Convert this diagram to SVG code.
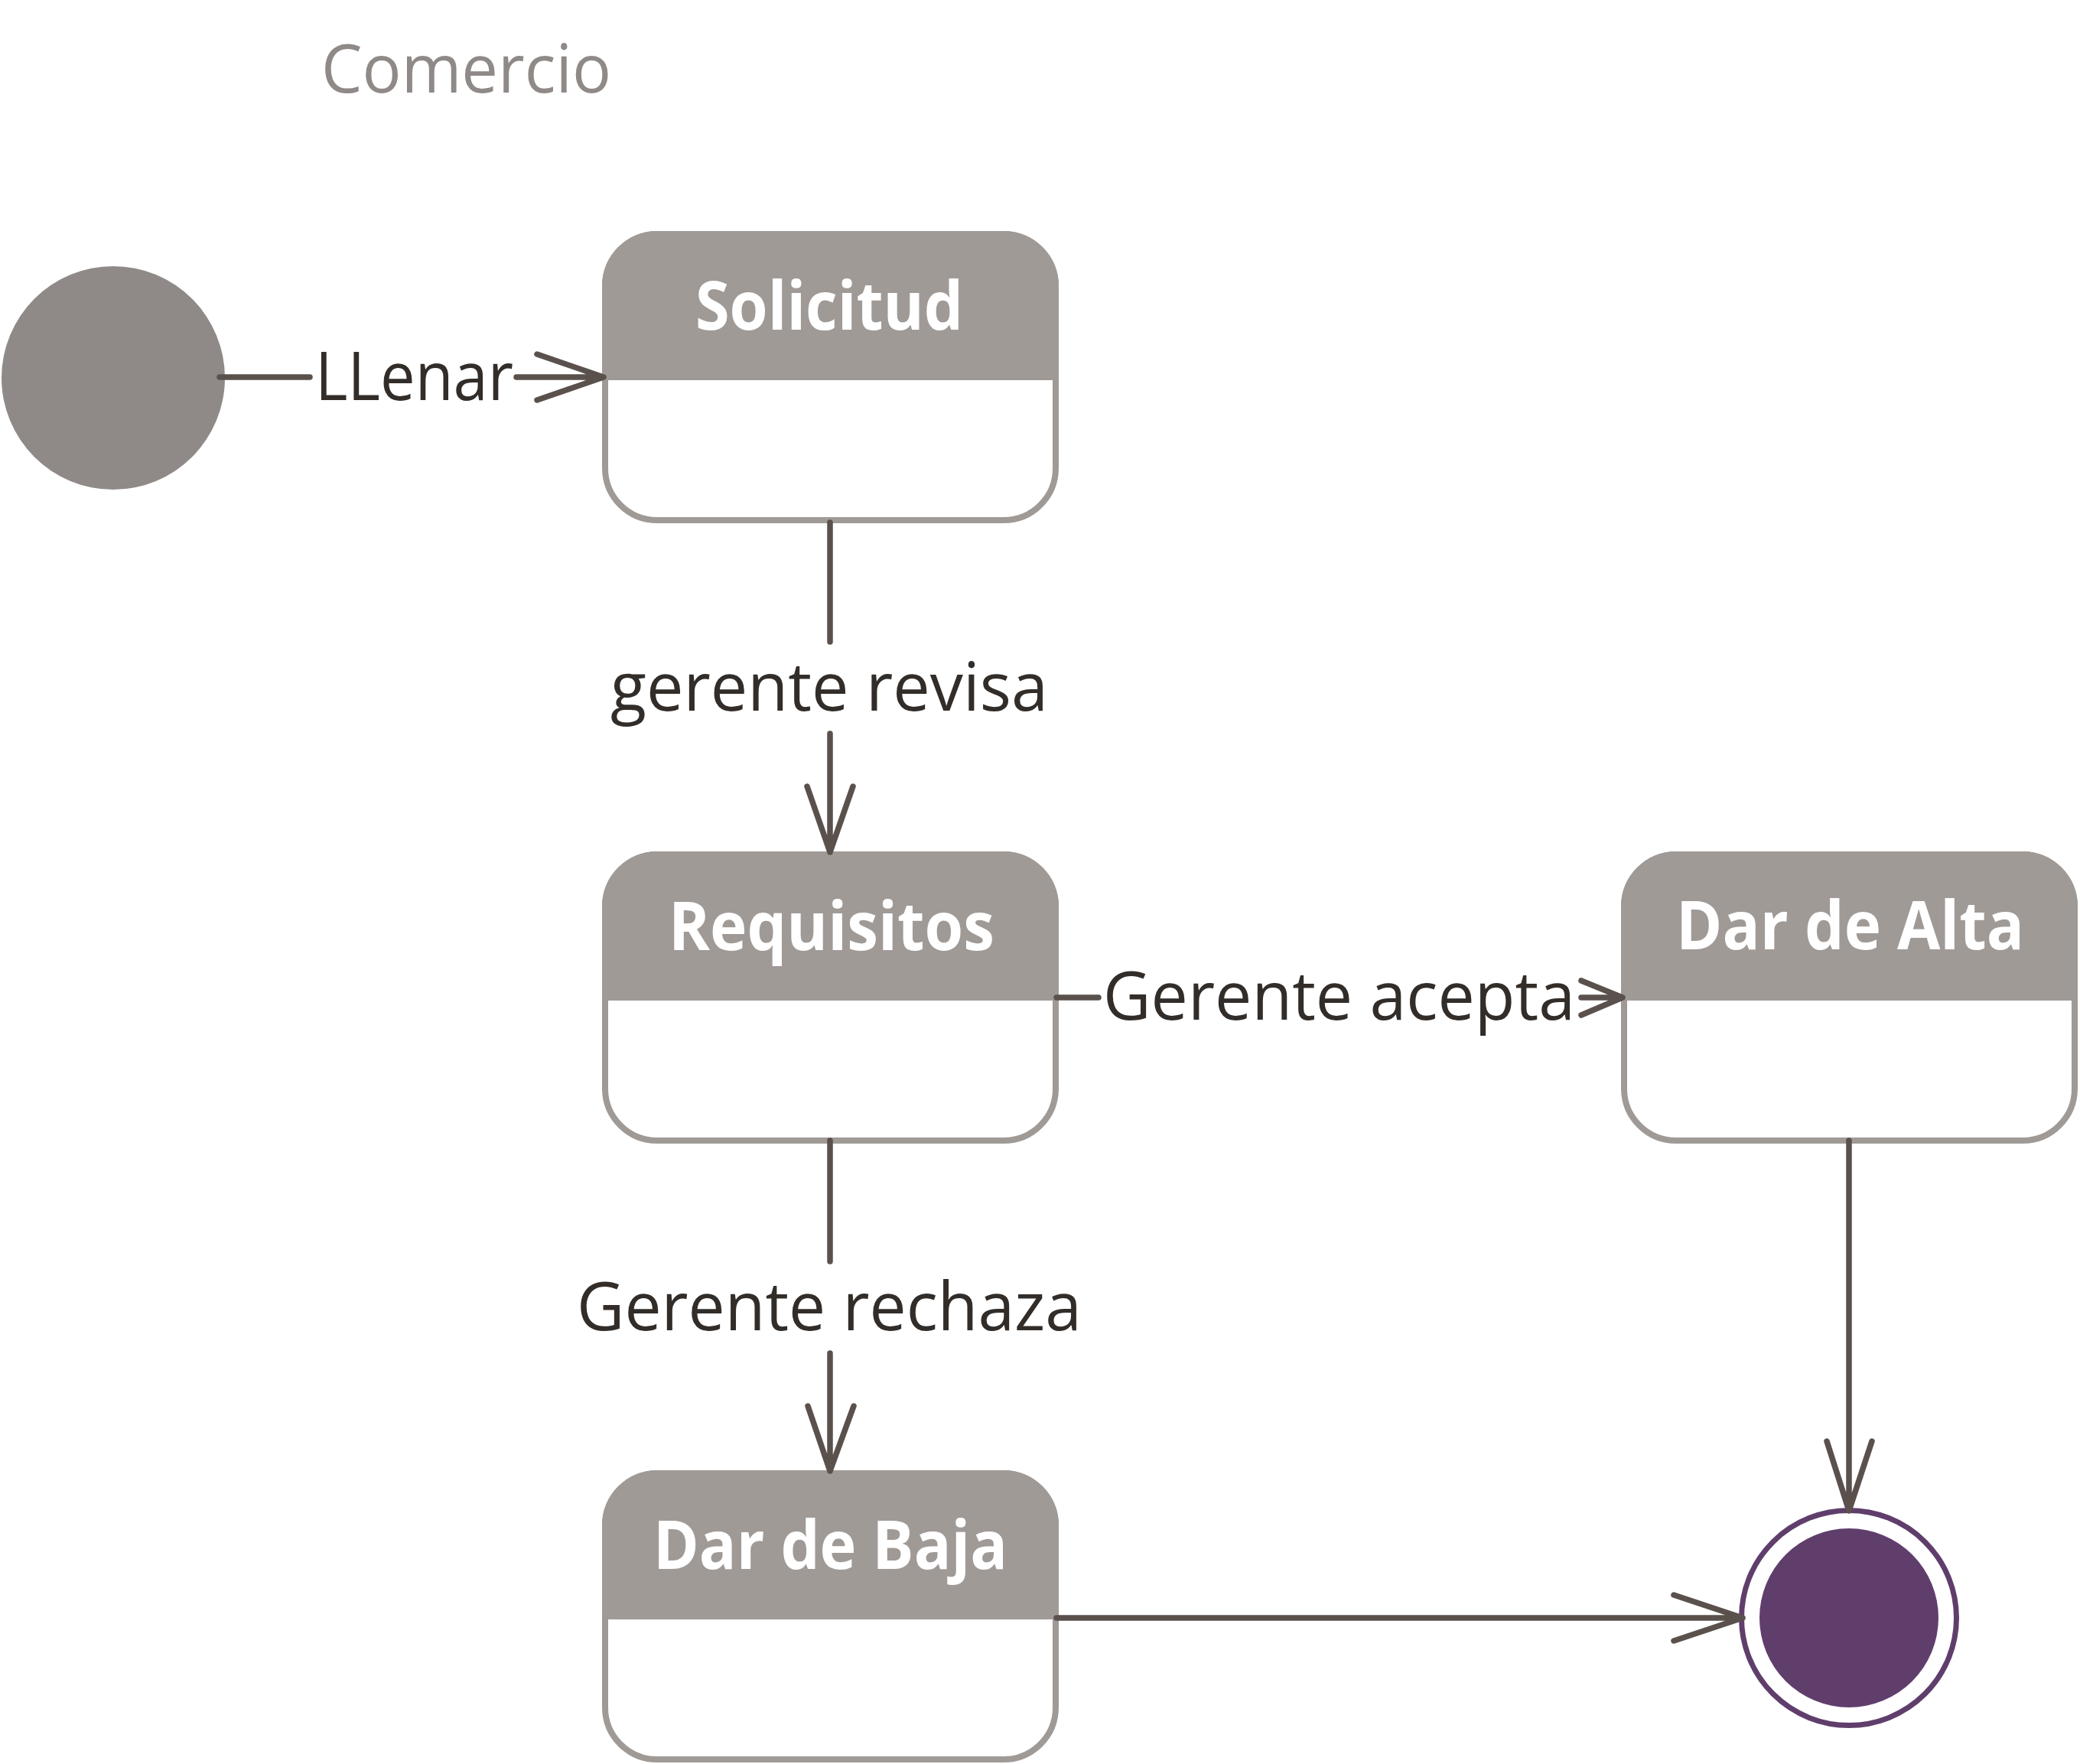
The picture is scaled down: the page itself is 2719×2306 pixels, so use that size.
<svg xmlns="http://www.w3.org/2000/svg" width="2719" height="2306" viewBox="0 0 2719 2306">
<style>
.body{fill:#ffffff;stroke:#a09a97;stroke-width:8}
.head{fill:#a09a97}
.name{font-family:"Open Sans","Noto Sans",sans-serif;font-weight:bold;font-size:88px;fill:#ffffff}
.lbl{font-family:"Open Sans","Noto Sans",sans-serif;font-size:88px;fill:#322d29}
.title{font-family:"Open Sans","Noto Sans",sans-serif;font-size:88px;fill:#8f8a87}
.edge{fill:none;stroke:#5a514c;stroke-width:7.5;stroke-linecap:round;stroke-linejoin:round}
</style>
<rect width="2719" height="2306" fill="#ffffff"/>
<text class="title" x="420" y="121" textLength="379" lengthAdjust="spacingAndGlyphs">Comercio</text>

<g id="initial">
<circle cx="148" cy="494" r="146" fill="#8f8a87"/>
</g>

<g id="solicitud">
<rect class="body" x="791" y="306" width="589" height="374" rx="68"/>
<path class="head" d="M787,374 A72,72 0 0 1 859,302 H1312 A72,72 0 0 1 1384,374 V497 H787 Z"/>
<text class="name" x="909" y="431" textLength="350" lengthAdjust="spacingAndGlyphs">Solicitud</text>
</g>

<g id="requisitos">
<rect class="body" x="791" y="1117" width="589" height="374" rx="68"/>
<path class="head" d="M787,1185 A72,72 0 0 1 859,1113 H1312 A72,72 0 0 1 1384,1185 V1308 H787 Z"/>
<text class="name" x="874" y="1242" textLength="426" lengthAdjust="spacingAndGlyphs">Requisitos</text>
</g>

<g id="dar-de-alta">
<rect class="body" x="2123" y="1117" width="589" height="374" rx="68"/>
<path class="head" d="M2119,1185 A72,72 0 0 1 2191,1113 H2644 A72,72 0 0 1 2716,1185 V1308 H2119 Z"/>
<text class="name" x="2191" y="1241" textLength="455" lengthAdjust="spacingAndGlyphs">Dar de Alta</text>
</g>

<g id="dar-de-baja">
<rect class="body" x="791" y="1926" width="589" height="374" rx="68"/>
<path class="head" d="M787,1994 A72,72 0 0 1 859,1922 H1312 A72,72 0 0 1 1384,1994 V2117 H787 Z"/>
<text class="name" x="854" y="2051" textLength="463" lengthAdjust="spacingAndGlyphs">Dar de Baja</text>
</g>

<g id="final">
<circle cx="2417" cy="2115" r="140.5" fill="#ffffff" stroke="#603e6c" stroke-width="7"/>
<circle cx="2417" cy="2115" r="117" fill="#603e6c"/>
</g>

<g id="connectors">
<g id="e-llenar">
<path class="edge" d="M287,493 H405 M675,493 H789 M702,463 L789,493 L702,523"/>
<text class="lbl" x="412" y="523" textLength="259" lengthAdjust="spacingAndGlyphs">LLenar</text>
</g>
<g id="e-revisa">
<path class="edge" d="M1085,683 V839 M1085,959 V1114 M1055,1028 L1085,1114 L1115,1028"/>
<text class="lbl" x="798" y="929" textLength="572" lengthAdjust="spacingAndGlyphs">gerente revisa</text>
</g>
<g id="e-acepta">
<path class="edge" d="M1381,1304 H1436 M2067,1304 H2121 M2067,1282 L2121,1304 L2067,1327"/>
<text class="lbl" x="1442" y="1333" textLength="617" lengthAdjust="spacingAndGlyphs">Gerente acepta</text>
</g>
<g id="e-rechaza">
<path class="edge" d="M1085,1491 V1649 M1085,1769 V1923 M1056,1838 L1085,1923 L1116,1838"/>
<text class="lbl" x="754" y="1739" textLength="660" lengthAdjust="spacingAndGlyphs">Gerente rechaza</text>
</g>
<g id="e-alta-final">
<path class="edge" d="M2417,1491 V1975 M2388,1884 L2417,1975 L2447,1884"/>
</g>
<g id="e-baja-final">
<path class="edge" d="M1381,2115 H2278 M2188,2085 L2278,2115 L2188,2145"/>
</g>
</g>
</svg>
